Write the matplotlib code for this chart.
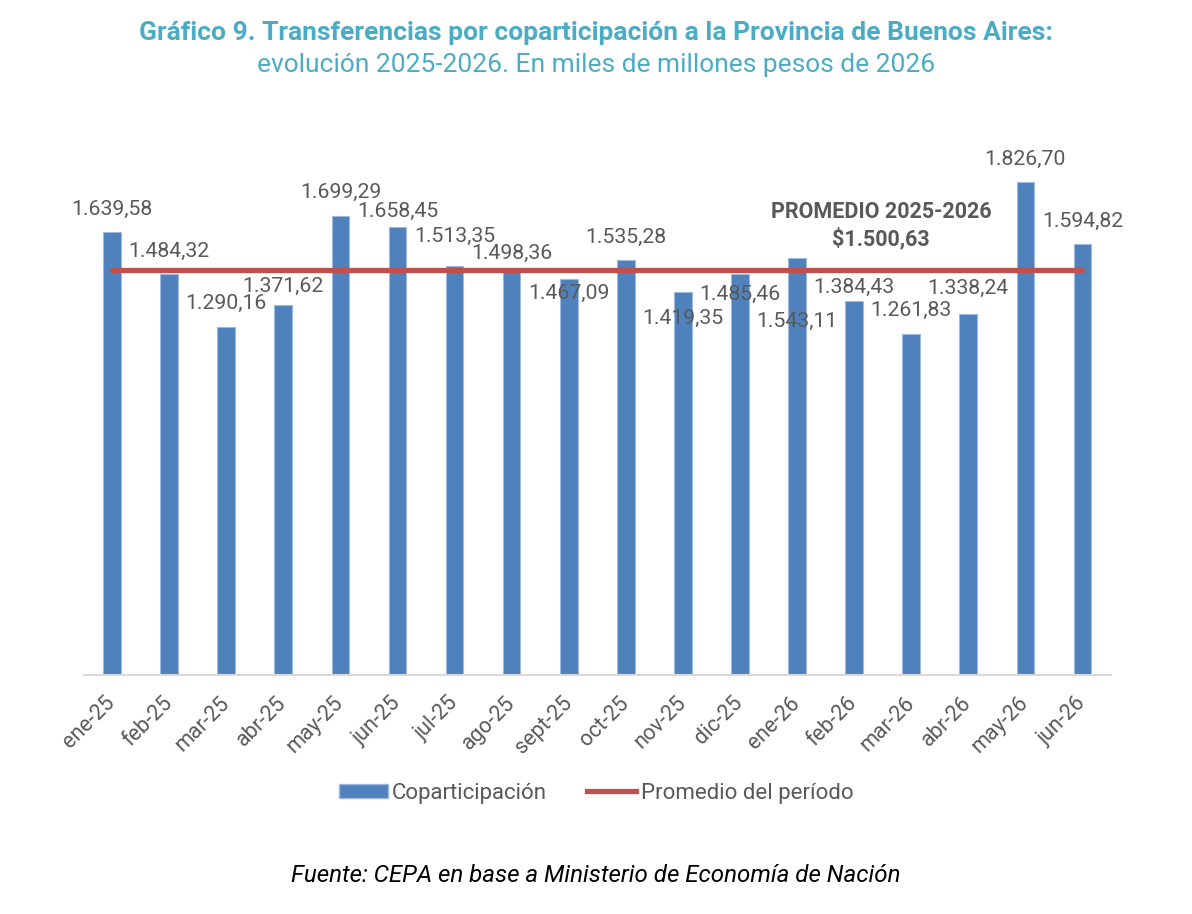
import matplotlib.pyplot as plt
from matplotlib.patches import Patch
from matplotlib.lines import Line2D

# datos del gráfico
meses = ['ene-25', 'feb-25', 'mar-25', 'abr-25', 'may-25', 'jun-25', 'jul-25', 'ago-25',
         'sept-25', 'oct-25', 'nov-25', 'dic-25', 'ene-26', 'feb-26', 'mar-26', 'abr-26',
         'may-26', 'jun-26']
coparticipacion = [1639.58, 1484.32, 1290.16, 1371.62, 1699.29, 1658.45, 1513.35, 1498.36,
                   1467.09, 1535.28, 1419.35, 1485.46, 1543.11, 1384.43, 1261.83, 1338.24,
                   1826.70, 1594.82]
promedio = 1500.63

# desplazamiento vertical de cada etiqueta (pixeles, sobre el tope de la barra)
desplaz = [23, 23, 23, 18, 24, 16, 30, 17, -15, 23, -27, -20, -63, 14, 24, 25, 22, 23]

gris = '#595959'
azul = '#4F81BD'
rojo = '#C0504D'
titulo_color = '#4BACC6'

plt.rcParams['font.family'] = ['Roboto', 'DejaVu Sans']

fig = plt.figure(figsize=(11.92, 9.14), dpi=100)
ax = fig.add_axes([83.5 / 1192, 1 - 675 / 914, (1111 - 83.5) / 1192, 540 / 914])

x = list(range(len(meses)))
barras = ax.bar(x, coparticipacion, width=0.31, color=azul, edgecolor='#9DB9DE', linewidth=0.8, zorder=2)
ax.plot(x, [promedio] * len(x), color=rojo, linewidth=3.8, solid_capstyle='round', zorder=3)

def formato(v):
    s = f'{v:,.2f}'
    return s.replace(',', 'X').replace('.', ',').replace('X', '.')

for i, barra in enumerate(barras):
    ax.annotate(formato(coparticipacion[i]), (barra.get_x() + barra.get_width() / 2, barra.get_height()),
                xytext=(0, desplaz[i]), textcoords='offset pixels', ha='center', va='center',
                fontsize=15.3, color=gris, zorder=4)

ax.text(13.47, 1665, 'PROMEDIO 2025-2026\n\\$1.500,63', ha='center', va='center',
        fontsize=15.5, fontweight='bold', color=gris, linespacing=1.25, zorder=4)

ax.set_xlim(-0.5, len(meses) - 0.5)
ax.set_ylim(0, 2000)
ax.set_yticks([])
ax.set_xticks(x)
ax.set_xticklabels(meses, rotation=45, ha='right', va='center', rotation_mode='anchor',
                   fontsize=15.5, color=gris)
ax.tick_params(axis='x', length=0, pad=18)
for lado in ['top', 'right', 'left']:
    ax.spines[lado].set_visible(False)
ax.spines['bottom'].set_color('#D9D9D9')
ax.spines['bottom'].set_linewidth(1.5)

# titulo
fig.text(0.5, 1 - 33 / 914, 'Gráfico 9. Transferencias por coparticipación a la Provincia de Buenos Aires:',
         ha='center', va='center', fontsize=19, fontweight='bold', color=titulo_color)
fig.text(0.5, 1 - 65 / 914, 'evolución 2025-2026. En miles de millones pesos de 2026',
         ha='center', va='center', fontsize=19, color=titulo_color)

# leyenda
handles = [Patch(facecolor=azul, edgecolor='#9DB9DE'),
           Line2D([0], [0], color=rojo, linewidth=3.8)]
fig.legend(handles, ['Coparticipación', 'Promedio del período'], loc='center',
           bbox_to_anchor=(0.5, 1 - 793 / 914), ncol=2, frameon=False, fontsize=16,
           labelcolor=gris, handlelength=2.2, handleheight=0.6, handletextpad=0.2,
           columnspacing=1.8)

# fuente
fig.text(0.5, 1 - 875 / 914, 'Fuente: CEPA en base a Ministerio de Economía de Nación',
         ha='center', va='center', fontsize=17.4, style='italic', color='black')

fig.savefig('out.png', dpi=100)
